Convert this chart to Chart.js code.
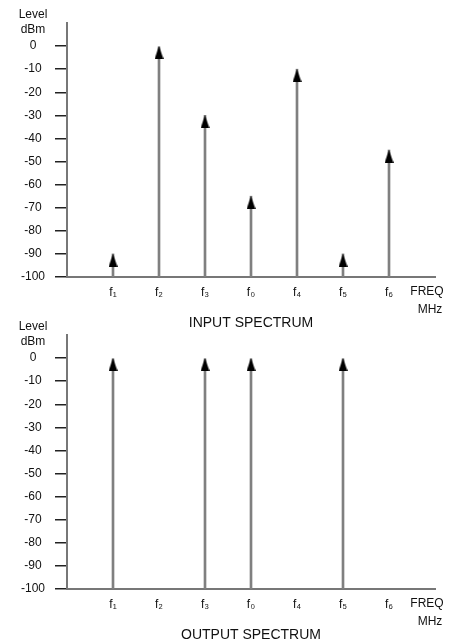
<!DOCTYPE html>
<html>
<head>
<meta charset="utf-8">
<script src="https://cdn.jsdelivr.net/npm/chart.js@4"></script>
<style>
  html, body { margin: 0; padding: 0; background: #fff; }
  body { width: 454px; height: 642px; position: relative; overflow: hidden; }
  .panel { position: absolute; left: 0; width: 454px; height: 330px; }
  #inputPanel { top: 0; }
  #outputPanel { top: 312px; }
</style>
</head>
<body>
<div class="panel" id="outputPanel"><canvas id="outputChart"></canvas></div>
<div class="panel" id="inputPanel"><canvas id="inputChart"></canvas></div>
<script>
const freqLabels = ["f₁", "f₂", "f₃", "f₀", "f₄", "f₅", "f₆"];
const levelTicks = [0, -10, -20, -30, -40, -50, -60, -70, -80, -90, -100];

// dBm level of each carrier, null where no carrier is present
const inputLevels = [-90, 0, -30, -65, -10, -90, -45];
const outputLevels = [0, null, 0, 0, null, 0, null];

const FONT = '"Liberation Sans", Arial, sans-serif';

// Arrowhead image: the tip sits in the middle so it lands on the value.
const makeArrowHead = () => {
  const c = document.createElement("canvas");
  c.width = 9;
  c.height = 26;
  const g = c.getContext("2d");
  g.fillStyle = "#000";
  g.beginPath();
  g.moveTo(4.5, 13);
  g.lineTo(9, 26);
  g.lineTo(0, 26);
  g.closePath();
  g.fill();
  return c;
};
const arrowHead = makeArrowHead();

const extraText = {
  id: "extraText",
  afterDraw(chart, args, opts) {
    const { ctx, chartArea } = chart;
    const { x, y } = chart.scales;
    const zero = y.getPixelForValue(0);
    const base = x.top;
    ctx.save();
    ctx.fillStyle = "#111";
    ctx.textAlign = "center";
    ctx.textBaseline = "middle";
    ctx.font = "12px " + FONT;
    ctx.fillText("Level", 33, zero - 31);
    ctx.fillText("dBm", 33, zero - 16);
    ctx.fillText("FREQ", 427, base + 15);
    ctx.fillText("MHz", 430, base + 33);
    ctx.font = "14px " + FONT;
    ctx.fillText(opts.title, (chartArea.left + chartArea.right) / 2, base + 46);
    ctx.restore();
  },
};

const buildSpectrum = (canvasId, levels, title) => {
  const ctx = document.getElementById(canvasId);
  const points = levels
    .map((v, i) => ({ x: i + 1, y: v }))
    .filter((p) => p.y !== null);
  const stems = points.map((p) => ({ x: p.x, y: [-100, p.y] }));

  new Chart(ctx, {
    type: "bar",
    data: {
      datasets: [
        {
          type: "scatter",
          data: points,
          pointStyle: arrowHead,
          order: 0,
        },
        {
          data: stems,
          backgroundColor: "#808080",
          barThickness: 2,
          order: 1,
        },
      ],
    },
    plugins: [extraText],
    options: {
      responsive: true,
      maintainAspectRatio: false,
      animation: false,
      layout: { padding: { top: 23, right: 19, bottom: 33, left: 0 } },
      plugins: {
        legend: { display: false },
        tooltip: { enabled: false },
        extraText: { title },
      },
      scales: {
        x: {
          type: "linear",
          min: 0,
          max: 8,
          offset: false,
          afterFit: (s) => { s.height = 20; },
          afterBuildTicks: (s) => {
            s.ticks = freqLabels.map((_, i) => ({ value: i + 1 }));
          },
          ticks: {
            autoSkip: false,
            padding: 8,
            color: "#111",
            font: { family: FONT, size: 12 },
            callback: (v) => freqLabels[v - 1],
          },
          grid: { display: false, drawTicks: false, offset: false },
          border: { display: true, color: "#777", width: 2 },
        },
        y: {
          min: -100,
          max: 10,
          afterFit: (s) => { s.width = 67; },
          afterBuildTicks: (s) => {
            s.ticks = levelTicks.map((v) => ({ value: v }));
          },
          ticks: {
            crossAlign: "center",
            padding: 10,
            color: "#111",
            font: { family: FONT, size: 12 },
          },
          grid: {
            drawOnChartArea: false,
            tickLength: 12,
            color: "#222",
            lineWidth: 1.5,
          },
          border: { display: true, color: "#777", width: 2 },
        },
      },
    },
  });
};

document.addEventListener("DOMContentLoaded", () => {
  buildSpectrum("inputChart", inputLevels, "INPUT SPECTRUM");
  buildSpectrum("outputChart", outputLevels, "OUTPUT SPECTRUM");
});
</script>
</body>
</html>
